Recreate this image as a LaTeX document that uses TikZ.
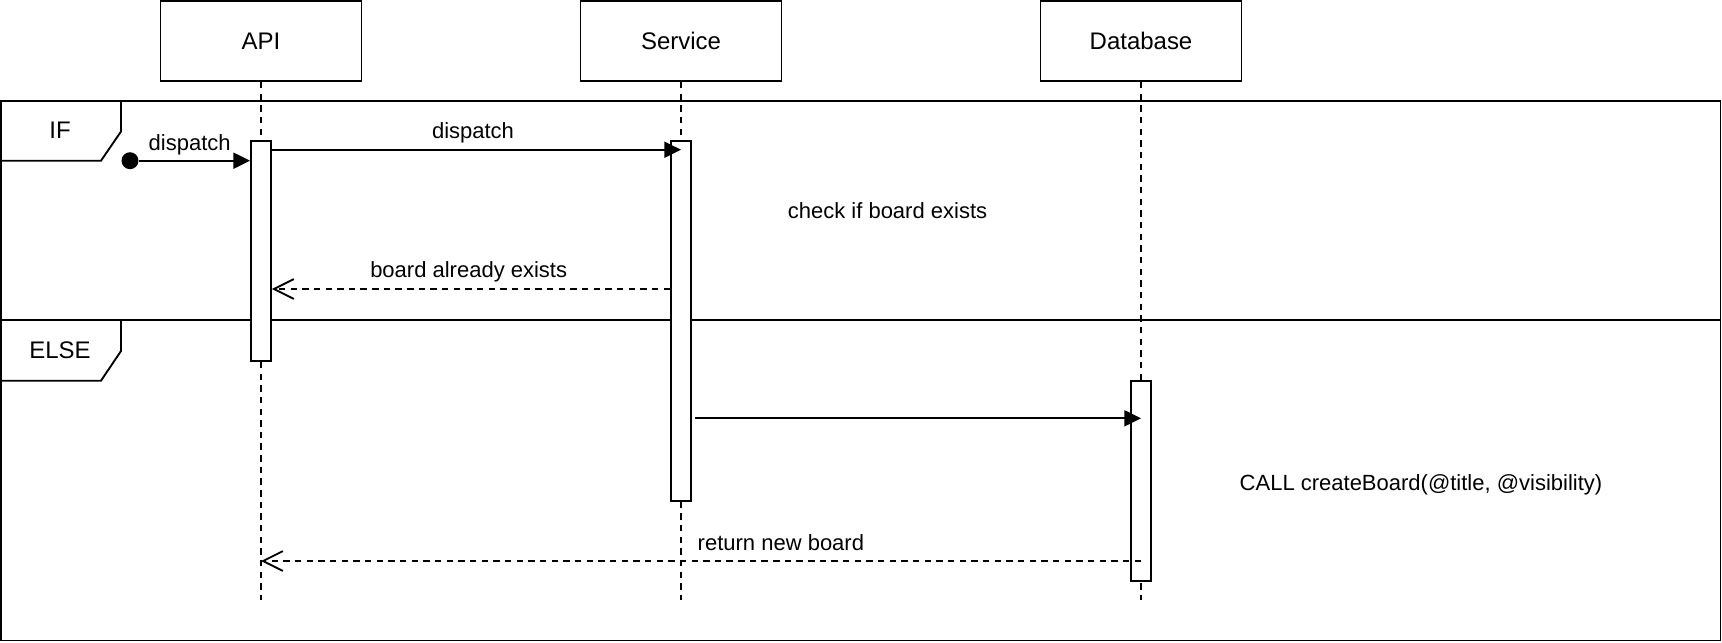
\documentclass[tikz,border=0pt]{standalone}
\usepackage{fontspec}
\setmainfont{Liberation Sans}
\usetikzlibrary{arrows.meta}
\tikzset{
  lifebox/.style={draw, fill=white, minimum width=91.35pt, minimum height=36.4pt, inner sep=0pt, font=\fontsize{10.9}{13}\selectfont},
  actbox/.style={draw, fill=white, minimum width=9.1pt, inner sep=0pt},
  lifeline/.style={dash pattern=on 2.9pt off 2.4pt},
  msg/.style={-{Triangle[length=7.6pt,width=7.3pt]}},
  reply/.style={dash pattern=on 2.9pt off 2.4pt, -{Straight Barb[length=9pt,width=9pt]}},
  lbl/.style={anchor=base, inner sep=0pt},
  partlbl/.style={lbl, font=\fontsize{10.9}{13}\selectfont},
}
\begin{document}
\begin{tikzpicture}[x=0.4545pt, y=-0.4545pt, line width=0.85pt]
  \useasboundingbox (0,0) rectangle (1722,642);
  % frame with IF / ELSE parts
  \draw (1,101) rectangle (1720.5,640.5);
  \draw (1,320) -- (1720.5,320);
  \draw (1,101) -- (121,101) -- (121,131.5) -- (101,160.7) -- (1,160.7);
  \draw (1,320) -- (121,320) -- (121,351) -- (101,380.7) -- (1,380.7);
  \node[partlbl] (ifl) at (60,138.3) {IF};
  \node[partlbl] (elsel) at (60,358.3) {ELSE};
  % participants
  \node[lifebox] (api) at (261,41) {API};
  \node[lifebox] (service) at (681,41) {Service};
  \node[lifebox] (database) at (1141,41) {Database};
  \coordinate (apiend) at (261,600);
  \coordinate (serviceend) at (681,600);
  \coordinate (databaseend) at (1141,600);
  \draw[lifeline] (api) -- (apiend);
  \draw[lifeline] (service) -- (serviceend);
  \draw[lifeline] (database) -- (databaseend);
  % activations
  \node[actbox, minimum height=100pt] (actapi) at (261,251) {};
  \node[actbox, minimum height=163.6pt] (actservice) at (681,321) {};
  \node[actbox, minimum height=90.9pt] (actdatabase) at (1141,481) {};
  % messages
  \node[circle, fill, inner sep=0pt, minimum size=7.7pt] (start) at (130,160.7) {};
  \draw[msg] (start) -- (start -| actapi.west);
  \node[lbl] (dispatcha) at (189.7,150) {dispatch};
  \coordinate (m2) at (0,149.7);
  \draw[msg] (actapi.east |- m2) -- (service |- m2);
  \node[lbl] (dispatchb) at (473,138.3) {dispatch};
  \node[lbl] (check) at (887.5,218.3) {check if board exists};
  \coordinate (r1) at (0,289);
  \draw[reply] (actservice.west |- r1) -- (actapi.east |- r1);
  \node[lbl] (exists) at (468.7,277.3) {board already exists};
  \coordinate (m3) at (695,418.3);
  \draw[msg] (m3) -- (m3 -| database);
  \node[lbl] (call) at (1421,490) {CALL createBoard(@title, @visibility)};
  \coordinate (r2) at (0,561);
  \draw[reply] (database |- r2) -- (api |- r2);
  \node[lbl, anchor=base west] (newboard) at (696.8,550) {return new board};
\end{tikzpicture}
\end{document}
